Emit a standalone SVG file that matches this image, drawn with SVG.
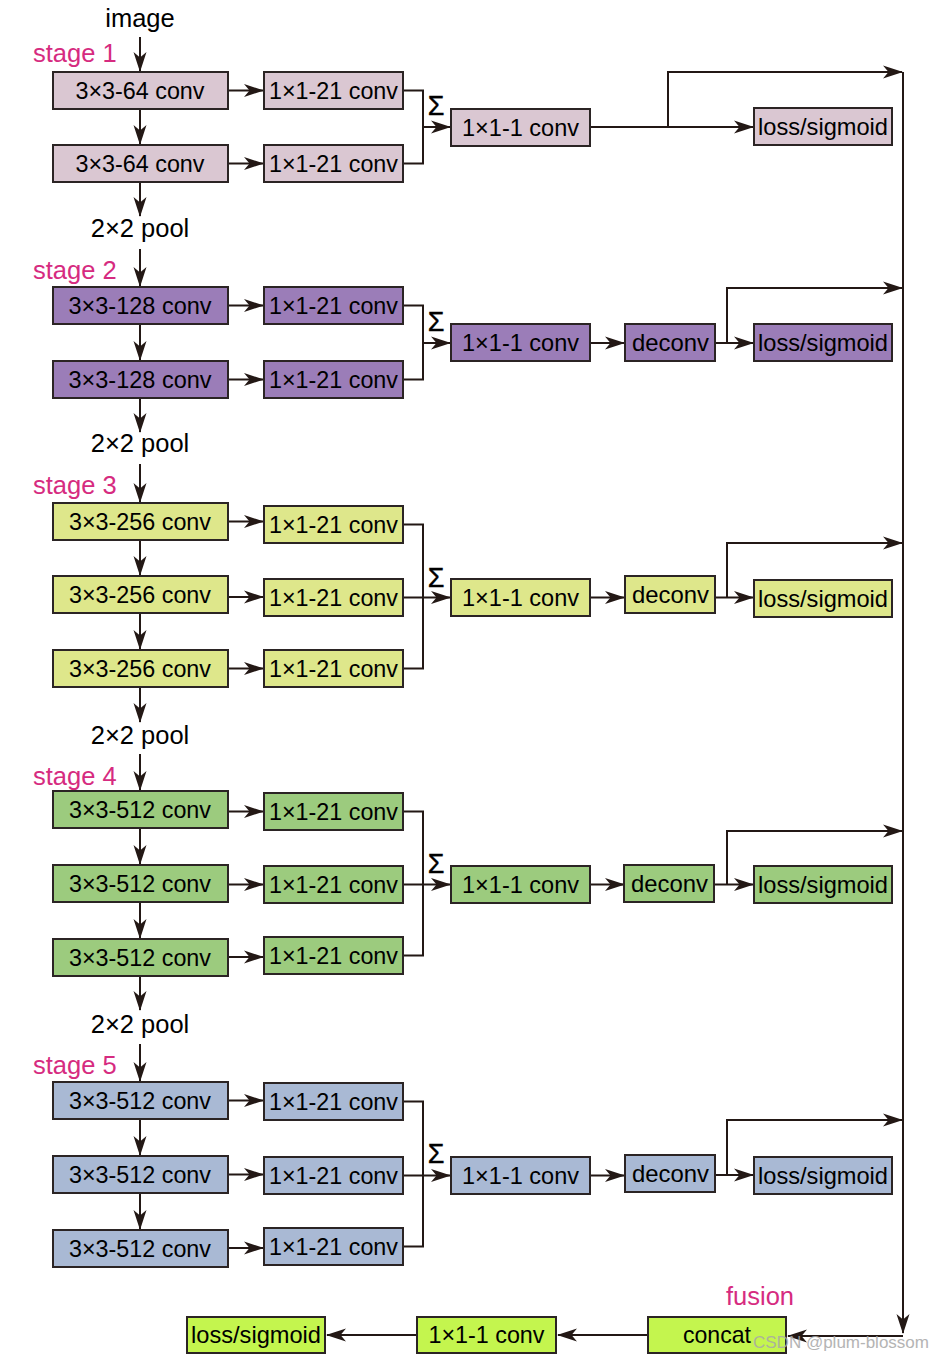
<svg xmlns="http://www.w3.org/2000/svg" width="943" height="1360" viewBox="0 0 943 1360">
<style>
.b{stroke:#2b2424;stroke-width:2}
.s1{fill:#dac7d2}.s2{fill:#9b7db8}.s3{fill:#dee78b}.s4{fill:#9ccb7e}.s5{fill:#a9b9d4}.sf{fill:#c4f54e}
.t{font-family:"Liberation Sans",Arial,Helvetica,sans-serif;font-size:24px;fill:#000;text-anchor:middle}
.l{font-family:"Liberation Sans",Arial,Helvetica,sans-serif;font-size:25.5px;fill:#000;text-anchor:middle}
.m{font-family:"Liberation Sans",Arial,Helvetica,sans-serif;font-size:25.5px;fill:#d62b80}
.sig{font-family:"Liberation Sans",Arial,Helvetica,sans-serif;font-size:27px;fill:#000;stroke:#000;stroke-width:0.4;text-anchor:middle}
.c{fill:none;stroke:#231815;stroke-width:2}
.wm{font-family:"Liberation Sans",Arial,Helvetica,sans-serif;font-size:17px;fill:#a8a8a8;opacity:0.85}
</style>
<defs>
<marker id="ah" markerWidth="20" markerHeight="14" refX="19" refY="7" orient="auto" markerUnits="userSpaceOnUse">
<path d="M0,0.5 L20,7 L0,13.5 L5.5,7 z" fill="#231815"/>
</marker>
</defs>

<!-- labels -->
<text class="l" x="140" y="27">image</text>
<text class="m" x="33" y="62">stage 1</text>
<text class="l" x="140" y="237">2×2 pool</text>
<text class="m" x="33" y="279">stage 2</text>
<text class="l" x="140" y="452">2×2 pool</text>
<text class="m" x="33" y="494">stage 3</text>
<text class="l" x="140" y="744">2×2 pool</text>
<text class="m" x="33" y="785">stage 4</text>
<text class="l" x="140" y="1033">2×2 pool</text>
<text class="m" x="33" y="1074">stage 5</text>
<text class="m" x="760" y="1305" text-anchor="middle">fusion</text>
<text class="sig" x="436" y="115">Σ</text>
<text class="sig" x="436" y="331">Σ</text>
<text class="sig" x="436" y="587">Σ</text>
<text class="sig" x="436" y="873">Σ</text>
<text class="sig" x="436" y="1163">Σ</text>

<!-- connectors -->
<g id="connectors">
<!-- trunk -->
<path class="c" d="M140,37 V71" marker-end="url(#ah)"/>
<path class="c" d="M140,109 V144" marker-end="url(#ah)"/>
<path class="c" d="M140,182 V216" marker-end="url(#ah)"/>
<path class="c" d="M140,249 V286" marker-end="url(#ah)"/>
<path class="c" d="M140,324 V360" marker-end="url(#ah)"/>
<path class="c" d="M140,398 V432" marker-end="url(#ah)"/>
<path class="c" d="M140,464 V502" marker-end="url(#ah)"/>
<path class="c" d="M140,540 V575" marker-end="url(#ah)"/>
<path class="c" d="M140,613 V649" marker-end="url(#ah)"/>
<path class="c" d="M140,687 V722" marker-end="url(#ah)"/>
<path class="c" d="M140,754 V790" marker-end="url(#ah)"/>
<path class="c" d="M140,828 V864" marker-end="url(#ah)"/>
<path class="c" d="M140,902 V938" marker-end="url(#ah)"/>
<path class="c" d="M140,976 V1010" marker-end="url(#ah)"/>
<path class="c" d="M140,1044 V1081" marker-end="url(#ah)"/>
<path class="c" d="M140,1119 V1155" marker-end="url(#ah)"/>
<path class="c" d="M140,1193 V1229" marker-end="url(#ah)"/>

<!-- stage 1 -->
<path class="c" d="M228,90.5 H263" marker-end="url(#ah)"/>
<path class="c" d="M228,163.5 H263" marker-end="url(#ah)"/>
<path class="c" d="M403,90.5 H423 V163.5 H403"/>
<path class="c" d="M423,127 H450" marker-end="url(#ah)"/>
<path class="c" d="M590,127 H753" marker-end="url(#ah)"/>
<path class="c" d="M668,127 V72 H902" marker-end="url(#ah)"/>

<!-- stage 2 -->
<path class="c" d="M228,305.5 H263" marker-end="url(#ah)"/>
<path class="c" d="M228,379.5 H263" marker-end="url(#ah)"/>
<path class="c" d="M403,305.5 H423 V379.5 H403"/>
<path class="c" d="M423,343 H450" marker-end="url(#ah)"/>
<path class="c" d="M590,343 H624" marker-end="url(#ah)"/>
<path class="c" d="M715,343 H753" marker-end="url(#ah)"/>
<path class="c" d="M727,343 V288 H902" marker-end="url(#ah)"/>

<!-- stage 3 -->
<path class="c" d="M228,521.5 H263" marker-end="url(#ah)"/>
<path class="c" d="M228,597 H263" marker-end="url(#ah)"/>
<path class="c" d="M228,668.5 H263" marker-end="url(#ah)"/>
<path class="c" d="M403,524.5 H423 V668.5 H403"/>
<path class="c" d="M403,597.5 H450" marker-end="url(#ah)"/>
<path class="c" d="M590,597.5 H624" marker-end="url(#ah)"/>
<path class="c" d="M715,597.5 H753" marker-end="url(#ah)"/>
<path class="c" d="M727,597.5 V543 H902" marker-end="url(#ah)"/>

<!-- stage 4 -->
<path class="c" d="M228,811.5 H263" marker-end="url(#ah)"/>
<path class="c" d="M228,884.5 H263" marker-end="url(#ah)"/>
<path class="c" d="M228,957 H263" marker-end="url(#ah)"/>
<path class="c" d="M403,811.5 H423 V955.5 H403"/>
<path class="c" d="M403,884.5 H450" marker-end="url(#ah)"/>
<path class="c" d="M590,884.5 H624" marker-end="url(#ah)"/>
<path class="c" d="M715,884.5 H753" marker-end="url(#ah)"/>
<path class="c" d="M727,884.5 V831 H902" marker-end="url(#ah)"/>

<!-- stage 5 -->
<path class="c" d="M228,1100.5 H263" marker-end="url(#ah)"/>
<path class="c" d="M228,1174.5 H263" marker-end="url(#ah)"/>
<path class="c" d="M228,1248 H263" marker-end="url(#ah)"/>
<path class="c" d="M403,1101.5 H423 V1246.5 H403"/>
<path class="c" d="M403,1175.5 H450" marker-end="url(#ah)"/>
<path class="c" d="M590,1175.5 H624" marker-end="url(#ah)"/>
<path class="c" d="M715,1175 H753" marker-end="url(#ah)"/>
<path class="c" d="M727,1175 V1120 H902" marker-end="url(#ah)"/>

<!-- right bus and fusion -->
<path class="c" d="M903,72 V1333" marker-end="url(#ah)"/>
<path class="c" d="M903,1336 H788" marker-end="url(#ah)"/>
<path class="c" d="M648,1335 H558" marker-end="url(#ah)"/>
<path class="c" d="M417,1335 H327" marker-end="url(#ah)"/>
</g>

<!-- stage 1 nodes -->
<g id="s1a1"><rect class="b s1" x="53" y="72" width="175" height="37"/><text class="t" x="140" y="99" textLength="129" lengthAdjust="spacingAndGlyphs">3×3-64 conv</text></g>
<g id="s1a2"><rect class="b s1" x="53" y="145" width="175" height="37"/><text class="t" x="140" y="172" textLength="129" lengthAdjust="spacingAndGlyphs">3×3-64 conv</text></g>
<g id="s1b1"><rect class="b s1" x="264" y="72" width="139" height="37"/><text class="t" x="333.5" y="99" textLength="129" lengthAdjust="spacingAndGlyphs">1×1-21 conv</text></g>
<g id="s1b2"><rect class="b s1" x="264" y="145" width="139" height="37"/><text class="t" x="333.5" y="172" textLength="129" lengthAdjust="spacingAndGlyphs">1×1-21 conv</text></g>
<g id="s1c"><rect class="b s1" x="451" y="109" width="139" height="37"/><text class="t" x="520.5" y="136" textLength="117" lengthAdjust="spacingAndGlyphs">1×1-1 conv</text></g>
<g id="s1loss"><rect class="b s1" x="754" y="108" width="138" height="37"/><text class="t" x="823" y="135" textLength="130" lengthAdjust="spacingAndGlyphs">loss/sigmoid</text></g>

<!-- stage 2 nodes -->
<g id="s2a1"><rect class="b s2" x="53" y="287" width="175" height="37"/><text class="t" x="140" y="314" textLength="143" lengthAdjust="spacingAndGlyphs">3×3-128 conv</text></g>
<g id="s2a2"><rect class="b s2" x="53" y="361" width="175" height="37"/><text class="t" x="140" y="388" textLength="143" lengthAdjust="spacingAndGlyphs">3×3-128 conv</text></g>
<g id="s2b1"><rect class="b s2" x="264" y="287" width="139" height="37"/><text class="t" x="333.5" y="314" textLength="129" lengthAdjust="spacingAndGlyphs">1×1-21 conv</text></g>
<g id="s2b2"><rect class="b s2" x="264" y="361" width="139" height="37"/><text class="t" x="333.5" y="388" textLength="129" lengthAdjust="spacingAndGlyphs">1×1-21 conv</text></g>
<g id="s2c"><rect class="b s2" x="451" y="324" width="139" height="37"/><text class="t" x="520.5" y="351" textLength="117" lengthAdjust="spacingAndGlyphs">1×1-1 conv</text></g>
<g id="s2d"><rect class="b s2" x="625" y="324" width="90" height="37"/><text class="t" x="670.5" y="351" textLength="77" lengthAdjust="spacingAndGlyphs">deconv</text></g>
<g id="s2loss"><rect class="b s2" x="754" y="324" width="138" height="37"/><text class="t" x="823" y="351" textLength="130" lengthAdjust="spacingAndGlyphs">loss/sigmoid</text></g>

<!-- stage 3 nodes -->
<g id="s3a1"><rect class="b s3" x="53" y="503" width="175" height="37"/><text class="t" x="140" y="530" textLength="142" lengthAdjust="spacingAndGlyphs">3×3-256 conv</text></g>
<g id="s3a2"><rect class="b s3" x="53" y="576" width="175" height="37"/><text class="t" x="140" y="603" textLength="142" lengthAdjust="spacingAndGlyphs">3×3-256 conv</text></g>
<g id="s3a3"><rect class="b s3" x="53" y="650" width="175" height="37"/><text class="t" x="140" y="677" textLength="142" lengthAdjust="spacingAndGlyphs">3×3-256 conv</text></g>
<g id="s3b1"><rect class="b s3" x="264" y="506" width="139" height="37"/><text class="t" x="333.5" y="533" textLength="129" lengthAdjust="spacingAndGlyphs">1×1-21 conv</text></g>
<g id="s3b2"><rect class="b s3" x="264" y="579" width="139" height="37"/><text class="t" x="333.5" y="606" textLength="129" lengthAdjust="spacingAndGlyphs">1×1-21 conv</text></g>
<g id="s3b3"><rect class="b s3" x="264" y="650" width="139" height="37"/><text class="t" x="333.5" y="677" textLength="129" lengthAdjust="spacingAndGlyphs">1×1-21 conv</text></g>
<g id="s3c"><rect class="b s3" x="451" y="579" width="139" height="37"/><text class="t" x="520.5" y="606" textLength="117" lengthAdjust="spacingAndGlyphs">1×1-1 conv</text></g>
<g id="s3d"><rect class="b s3" x="625" y="576" width="90" height="37"/><text class="t" x="670.5" y="603" textLength="77" lengthAdjust="spacingAndGlyphs">deconv</text></g>
<g id="s3loss"><rect class="b s3" x="754" y="580" width="138" height="37"/><text class="t" x="823" y="607" textLength="130" lengthAdjust="spacingAndGlyphs">loss/sigmoid</text></g>

<!-- stage 4 nodes -->
<g id="s4a1"><rect class="b s4" x="53" y="791" width="175" height="37"/><text class="t" x="140" y="818" textLength="142" lengthAdjust="spacingAndGlyphs">3×3-512 conv</text></g>
<g id="s4a2"><rect class="b s4" x="53" y="865" width="175" height="37"/><text class="t" x="140" y="892" textLength="142" lengthAdjust="spacingAndGlyphs">3×3-512 conv</text></g>
<g id="s4a3"><rect class="b s4" x="53" y="939" width="175" height="37"/><text class="t" x="140" y="966" textLength="142" lengthAdjust="spacingAndGlyphs">3×3-512 conv</text></g>
<g id="s4b1"><rect class="b s4" x="264" y="793" width="139" height="37"/><text class="t" x="333.5" y="820" textLength="129" lengthAdjust="spacingAndGlyphs">1×1-21 conv</text></g>
<g id="s4b2"><rect class="b s4" x="264" y="866" width="139" height="37"/><text class="t" x="333.5" y="893" textLength="129" lengthAdjust="spacingAndGlyphs">1×1-21 conv</text></g>
<g id="s4b3"><rect class="b s4" x="264" y="937" width="139" height="37"/><text class="t" x="333.5" y="964" textLength="129" lengthAdjust="spacingAndGlyphs">1×1-21 conv</text></g>
<g id="s4c"><rect class="b s4" x="451" y="866" width="139" height="37"/><text class="t" x="520.5" y="893" textLength="117" lengthAdjust="spacingAndGlyphs">1×1-1 conv</text></g>
<g id="s4d"><rect class="b s4" x="624" y="865" width="90" height="37"/><text class="t" x="669.5" y="892" textLength="77" lengthAdjust="spacingAndGlyphs">deconv</text></g>
<g id="s4loss"><rect class="b s4" x="754" y="866" width="138" height="37"/><text class="t" x="823" y="893" textLength="130" lengthAdjust="spacingAndGlyphs">loss/sigmoid</text></g>

<!-- stage 5 nodes -->
<g id="s5a1"><rect class="b s5" x="53" y="1082" width="175" height="37"/><text class="t" x="140" y="1109" textLength="142" lengthAdjust="spacingAndGlyphs">3×3-512 conv</text></g>
<g id="s5a2"><rect class="b s5" x="53" y="1156" width="175" height="37"/><text class="t" x="140" y="1183" textLength="142" lengthAdjust="spacingAndGlyphs">3×3-512 conv</text></g>
<g id="s5a3"><rect class="b s5" x="53" y="1230" width="175" height="37"/><text class="t" x="140" y="1257" textLength="142" lengthAdjust="spacingAndGlyphs">3×3-512 conv</text></g>
<g id="s5b1"><rect class="b s5" x="264" y="1083" width="139" height="37"/><text class="t" x="333.5" y="1110" textLength="129" lengthAdjust="spacingAndGlyphs">1×1-21 conv</text></g>
<g id="s5b2"><rect class="b s5" x="264" y="1157" width="139" height="37"/><text class="t" x="333.5" y="1184" textLength="129" lengthAdjust="spacingAndGlyphs">1×1-21 conv</text></g>
<g id="s5b3"><rect class="b s5" x="264" y="1228" width="139" height="37"/><text class="t" x="333.5" y="1255" textLength="129" lengthAdjust="spacingAndGlyphs">1×1-21 conv</text></g>
<g id="s5c"><rect class="b s5" x="451" y="1157" width="139" height="37"/><text class="t" x="520.5" y="1184" textLength="117" lengthAdjust="spacingAndGlyphs">1×1-1 conv</text></g>
<g id="s5d"><rect class="b s5" x="625" y="1155" width="90" height="37"/><text class="t" x="670.5" y="1182" textLength="77" lengthAdjust="spacingAndGlyphs">deconv</text></g>
<g id="s5loss"><rect class="b s5" x="754" y="1157" width="138" height="37"/><text class="t" x="823" y="1184" textLength="130" lengthAdjust="spacingAndGlyphs">loss/sigmoid</text></g>

<!-- fusion nodes -->
<g id="fconcat"><rect class="b sf" x="648" y="1317" width="138" height="36"/><text class="t" x="717" y="1343" textLength="68" lengthAdjust="spacingAndGlyphs">concat</text></g>
<g id="fconv"><rect class="b sf" x="417" y="1317" width="139" height="36"/><text class="t" x="486.5" y="1343" textLength="116" lengthAdjust="spacingAndGlyphs">1×1-1 conv</text></g>
<g id="floss"><rect class="b sf" x="187" y="1317" width="138" height="36"/><text class="t" x="256" y="1343" textLength="130" lengthAdjust="spacingAndGlyphs">loss/sigmoid</text></g>

<text class="wm" x="753" y="1348">CSDN @plum-blossom</text>
</svg>
